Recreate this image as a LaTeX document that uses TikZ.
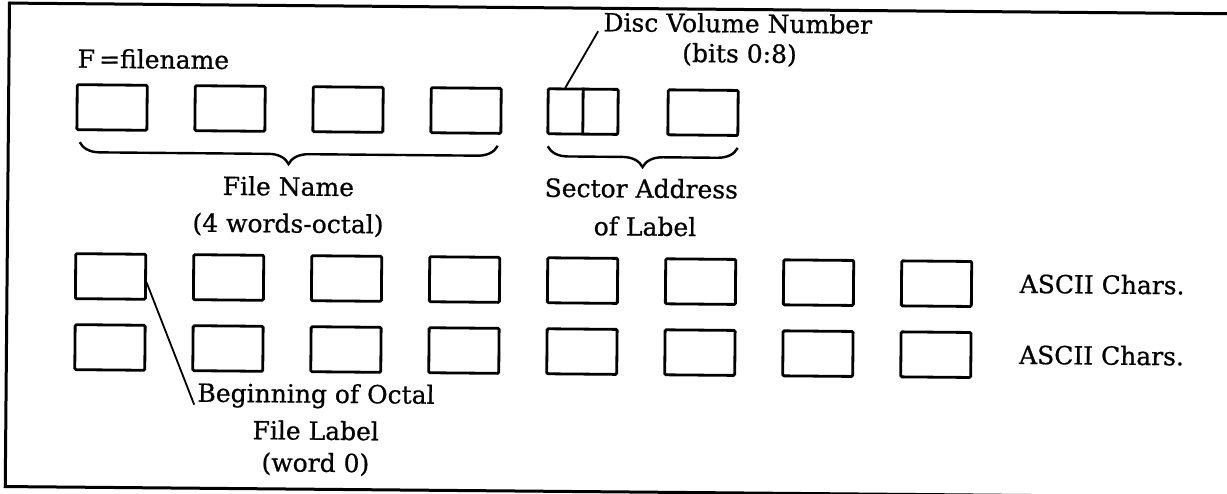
\documentclass[tikz,border=0pt]{standalone}
\usepackage{fontspec}
\setmainfont{DejaVu Serif}[BoldFont={DejaVu Serif},BoldFeatures={FakeBold=0.7}]
\usetikzlibrary{decorations.pathreplacing}
\begin{document}
\begin{tikzpicture}[x=1pt,y=-1pt,
  wbox/.style={draw, line width=2.8pt, rounded corners=1.2pt, minimum width=70pt, minimum height=45pt, inner sep=0pt},
  lbl/.style={inner sep=0pt, font=\fontsize{25}{31}\selectfont\bfseries},
  leader/.style={line width=1.8pt},
  brc/.style={decorate, decoration={brace, mirror, amplitude=20pt}, line width=2.4pt},
  frame/.style={line width=3pt}]
\useasboundingbox (0,0) rectangle (1227,493);
\begin{scope}[rotate=-0.5, transform shape]
  % frame
  \draw[frame] (9.5,3) -- (1245,3);
  \draw[frame] (9.5,1.5) -- (9.5,486.5);
  \draw[frame] (8,486.5) -- (1245,486.5);
  % row 1
  \node[wbox] (a1) at (113,106.5) {};
  \node[wbox] (a2) at (231,106.5) {};
  \node[wbox] (a3) at (349,106.5) {};
  \node[wbox] (a4) at (467,106.5) {};
  \node[wbox] (a5) at (584,106.5) {};
  \node[wbox] (a6) at (704,106.5) {};
  \draw[line width=2.8pt] (a5.north) -- (a5.south);
  % rows 3 and 4
  \foreach \i/\x in {1/113,2/231,3/349,4/467,5/585,6/703,7/821,8/939}{
    \node[wbox] (b\i) at (\x,275.5) {};
    \node[wbox] (c\i) at (\x,346.5) {};
  }
  % labels
  \node[lbl, anchor=base west] (fname) at (78,67) {F\,=filename};
  \node[lbl, anchor=base] (disc1) at (738,26) {Disc Volume Number};
  \node[lbl, anchor=base] (disc2) at (740,56) {(bits 0:8)};
  \node[lbl, anchor=base] (fn1) at (290,193) {File Name};
  \node[lbl, anchor=base] (fn2) at (290,230) {(4 words-octal)};
  \node[lbl, anchor=base] (sa1) at (643,192) {Sector Address};
  \node[lbl, anchor=base] (sa2) at (647,230) {of Label};
  \node[lbl, anchor=base west] (as1) at (1022,284) {ASCII Chars.};
  \node[lbl, anchor=base west] (as2) at (1022,355) {ASCII Chars.};
  \node[lbl, anchor=base] (beg1) at (319.5,400) {Beginning of Octal};
  \node[lbl, anchor=base] (beg2) at (319.5,437) {File Label};
  \node[lbl, anchor=base] (beg3) at (319.5,469) {(word 0)};
  % braces
  \draw[brc] (81,141.5) -- (499,141.5);
  \draw[brc] (549,141.5) -- (739,141.5);
  % leaders
  \coordinate (dvs) at (566,83);
  \draw[leader] (dvs) -- ([xshift=-5pt]disc1.base west);
  \coordinate (bgs) at (149,281);
  \draw[leader] (bgs) -- ([xshift=-3pt,yshift=-3pt]beg1.base west);
\end{scope}
\end{tikzpicture}
\end{document}
